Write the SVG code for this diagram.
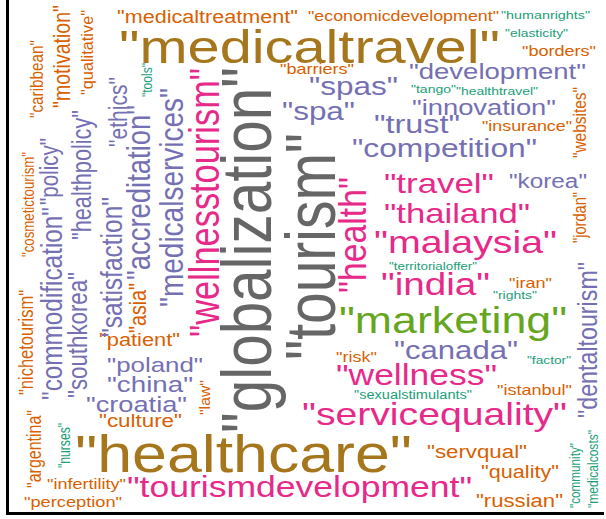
<svg xmlns="http://www.w3.org/2000/svg" width="606" height="519" viewBox="0 0 606 519">
<style>
text{font-family:"Liberation Sans",Arial,sans-serif}
.o{fill:#D95F02}.t{fill:#1B9E77}.p{fill:#7570B3}.k{fill:#E7298A}.g{fill:#66A61E}.y{fill:#A6761D}.r{fill:#666666}
.frame{stroke:#000;stroke-width:3;fill:none}
</style>
<rect width="606" height="519" fill="#fff"/>
<path class="frame" d="M7.5,0 V513.5 H604"/>
<g id="horizontal" lengthAdjust="spacingAndGlyphs">
<text class="y" x="119" y="63" font-size="47" textLength="381" lengthAdjust="spacingAndGlyphs">"medicaltravel"</text>
<text class="o" x="117" y="23" font-size="17.5" textLength="181" lengthAdjust="spacingAndGlyphs">"medicaltreatment"</text>
<text class="o" x="308" y="21" font-size="14.5" textLength="191" lengthAdjust="spacingAndGlyphs">"economicdevelopment"</text>
<text class="t" x="501" y="19" font-size="11.5" textLength="89" lengthAdjust="spacingAndGlyphs">"humanrights"</text>
<text class="t" x="505" y="37" font-size="11" textLength="63" lengthAdjust="spacingAndGlyphs">"elasticity"</text>
<text class="o" x="522" y="56" font-size="14.5" textLength="74" lengthAdjust="spacingAndGlyphs">"borders"</text>
<text class="p" x="409" y="79" font-size="22.5" textLength="177" lengthAdjust="spacingAndGlyphs">"development"</text>
<text class="t" x="411" y="93" font-size="11" textLength="45" lengthAdjust="spacingAndGlyphs">"tango"</text>
<text class="t" x="456" y="95" font-size="11" textLength="82" lengthAdjust="spacingAndGlyphs">"healthtravel"</text>
<text class="p" x="412" y="115" font-size="22" textLength="144" lengthAdjust="spacingAndGlyphs">"innovation"</text>
<text class="p" x="374" y="133" font-size="26" textLength="86" lengthAdjust="spacingAndGlyphs">"trust"</text>
<text class="o" x="482" y="131" font-size="14.5" textLength="90" lengthAdjust="spacingAndGlyphs">"insurance"</text>
<text class="p" x="352" y="157" font-size="26" textLength="185" lengthAdjust="spacingAndGlyphs">"competition"</text>
<text class="o" x="280" y="74" font-size="14.5" textLength="74" lengthAdjust="spacingAndGlyphs">"barriers"</text>
<text class="p" x="309" y="95" font-size="25.5" textLength="89" lengthAdjust="spacingAndGlyphs">"spas"</text>
<text class="p" x="282" y="120" font-size="25.5" textLength="73" lengthAdjust="spacingAndGlyphs">"spa"</text>
<text class="k" x="384" y="193" font-size="28" textLength="110" lengthAdjust="spacingAndGlyphs">"travel"</text>
<text class="p" x="509" y="188" font-size="19.5" textLength="78" lengthAdjust="spacingAndGlyphs">"korea"</text>
<text class="k" x="384" y="223" font-size="28" textLength="146" lengthAdjust="spacingAndGlyphs">"thailand"</text>
<text class="k" x="374" y="253" font-size="32" textLength="183" lengthAdjust="spacingAndGlyphs">"malaysia"</text>
<text class="t" x="389" y="270" font-size="10.5" textLength="88" lengthAdjust="spacingAndGlyphs">"territorialoffer"</text>
<text class="k" x="381" y="295" font-size="31" textLength="109" lengthAdjust="spacingAndGlyphs">"india"</text>
<text class="o" x="509" y="288" font-size="14.5" textLength="43" lengthAdjust="spacingAndGlyphs">"iran"</text>
<text class="t" x="493" y="299" font-size="11" textLength="44" lengthAdjust="spacingAndGlyphs">"rights"</text>
<text class="g" x="339" y="333" font-size="36" textLength="228" lengthAdjust="spacingAndGlyphs">"marketing"</text>
<text class="o" x="99" y="346" font-size="17.5" textLength="81" lengthAdjust="spacingAndGlyphs">"patient"</text>
<text class="p" x="107" y="372" font-size="21" textLength="96" lengthAdjust="spacingAndGlyphs">"poland"</text>
<text class="p" x="107" y="392" font-size="22" textLength="86" lengthAdjust="spacingAndGlyphs">"china"</text>
<text class="p" x="86" y="412" font-size="22" textLength="101" lengthAdjust="spacingAndGlyphs">"croatia"</text>
<text class="o" x="99" y="427" font-size="18" textLength="83" lengthAdjust="spacingAndGlyphs">"culture"</text>
<text class="y" x="75" y="472" font-size="51" textLength="337" lengthAdjust="spacingAndGlyphs">"healthcare"</text>
<text class="o" x="47" y="489" font-size="14.5" textLength="79" lengthAdjust="spacingAndGlyphs">"infertility"</text>
<text class="k" x="127" y="497" font-size="29" textLength="345" lengthAdjust="spacingAndGlyphs">"tourismdevelopment"</text>
<text class="o" x="24" y="507" font-size="14.5" textLength="98" lengthAdjust="spacingAndGlyphs">"perception"</text>
<text class="o" x="336" y="362" font-size="14.5" textLength="41" lengthAdjust="spacingAndGlyphs">"risk"</text>
<text class="p" x="394" y="359" font-size="25" textLength="124" lengthAdjust="spacingAndGlyphs">"canada"</text>
<text class="t" x="527" y="364" font-size="11" textLength="44" lengthAdjust="spacingAndGlyphs">"factor"</text>
<text class="k" x="336" y="385" font-size="29" textLength="161" lengthAdjust="spacingAndGlyphs">"wellness"</text>
<text class="t" x="354" y="399" font-size="12" textLength="118" lengthAdjust="spacingAndGlyphs">"sexualstimulants"</text>
<text class="o" x="497" y="395" font-size="14.5" textLength="75" lengthAdjust="spacingAndGlyphs">"istanbul"</text>
<text class="k" x="302" y="425" font-size="32" textLength="265" lengthAdjust="spacingAndGlyphs">"servicequality"</text>
<text class="o" x="427" y="458" font-size="18" textLength="100" lengthAdjust="spacingAndGlyphs">"servqual"</text>
<text class="o" x="481" y="478" font-size="17.5" textLength="78" lengthAdjust="spacingAndGlyphs">"quality"</text>
<text class="o" x="476" y="507" font-size="18" textLength="87" lengthAdjust="spacingAndGlyphs">"russian"</text>
</g>
<g id="vertical">
<text class="r" transform="translate(271,433) rotate(-90)" font-size="71" textLength="366" lengthAdjust="spacingAndGlyphs">"globalization"</text>
<text class="r" transform="translate(335,360) rotate(-90)" font-size="70" textLength="227" lengthAdjust="spacingAndGlyphs">"tourism"</text>
<text class="k" transform="translate(219,337) rotate(-90)" font-size="42" textLength="269" lengthAdjust="spacingAndGlyphs">"wellnesstourism"</text>
<text class="p" transform="translate(183,307) rotate(-90)" font-size="34" textLength="219" lengthAdjust="spacingAndGlyphs">"medicalservices"</text>
<text class="p" transform="translate(150,280) rotate(-90)" font-size="33" textLength="175" lengthAdjust="spacingAndGlyphs">"accreditation"</text>
<text class="o" transform="translate(146,333) rotate(-90)" font-size="24" textLength="50" lengthAdjust="spacingAndGlyphs">"asia"</text>
<text class="p" transform="translate(122,337) rotate(-90)" font-size="30" textLength="140" lengthAdjust="spacingAndGlyphs">"satisfaction"</text>
<text class="p" transform="translate(127,147) rotate(-90)" font-size="26" textLength="70" lengthAdjust="spacingAndGlyphs">"ethics"</text>
<text class="p" transform="translate(91,240) rotate(-90)" font-size="27" textLength="130" lengthAdjust="spacingAndGlyphs">"healthpolicy"</text>
<text class="p" transform="translate(87,398) rotate(-90)" font-size="27" textLength="126" lengthAdjust="spacingAndGlyphs">"southkorea"</text>
<text class="p" transform="translate(58,205) rotate(-90)" font-size="25" textLength="67" lengthAdjust="spacingAndGlyphs">"policy"</text>
<text class="p" transform="translate(62,400) rotate(-90)" font-size="30" textLength="193" lengthAdjust="spacingAndGlyphs">"commodification"</text>
<text class="o" transform="translate(34,257) rotate(-90)" font-size="16" textLength="105" lengthAdjust="spacingAndGlyphs">"cosmetictourism"</text>
<text class="o" transform="translate(33,395) rotate(-90)" font-size="20" textLength="105" lengthAdjust="spacingAndGlyphs">"nichetourism"</text>
<text class="o" transform="translate(41,488) rotate(-90)" font-size="19.5" textLength="78" lengthAdjust="spacingAndGlyphs">"argentina"</text>
<text class="t" transform="translate(70,468) rotate(-90)" font-size="17" textLength="45" lengthAdjust="spacingAndGlyphs">"nurses"</text>
<text class="o" transform="translate(43,118) rotate(-90)" font-size="19" textLength="78" lengthAdjust="spacingAndGlyphs">"caribbean"</text>
<text class="o" transform="translate(70,108) rotate(-90)" font-size="24" textLength="103" lengthAdjust="spacingAndGlyphs">"motivation"</text>
<text class="o" transform="translate(93,95) rotate(-90)" font-size="17" textLength="85" lengthAdjust="spacingAndGlyphs">"qualitative"</text>
<text class="t" transform="translate(152,97) rotate(-90)" font-size="14.5" textLength="34" lengthAdjust="spacingAndGlyphs">"tools"</text>
<text class="o" transform="translate(210,415) rotate(-90)" font-size="15" textLength="35" lengthAdjust="spacingAndGlyphs">"law"</text>
<text class="k" transform="translate(366,293) rotate(-90)" font-size="38" textLength="116" lengthAdjust="spacingAndGlyphs">"health"</text>
<text class="o" transform="translate(586,158) rotate(-90)" font-size="18.5" textLength="71" lengthAdjust="spacingAndGlyphs">"websites"</text>
<text class="o" transform="translate(586,243) rotate(-90)" font-size="18" textLength="51" lengthAdjust="spacingAndGlyphs">"jordan"</text>
<text class="p" transform="translate(597,418) rotate(-90)" font-size="28" textLength="156" lengthAdjust="spacingAndGlyphs">"dentaltourism"</text>
<text class="t" transform="translate(580,508) rotate(-90)" font-size="14" textLength="65" lengthAdjust="spacingAndGlyphs">"community"</text>
<text class="t" transform="translate(598,508) rotate(-90)" font-size="14.5" textLength="78" lengthAdjust="spacingAndGlyphs">"medicalcosts"</text>
</g>
</svg>
